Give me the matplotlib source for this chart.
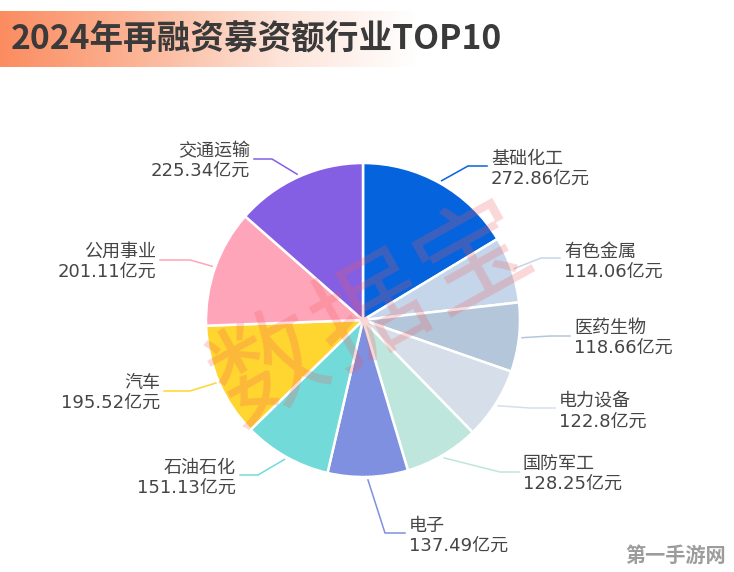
import numpy as np
import matplotlib
matplotlib.use('Agg')
import matplotlib.pyplot as plt
from matplotlib.colors import LinearSegmentedColormap

plt.rcParams['font.family'] = ['Noto Sans CJK SC', 'DejaVu Sans']

categories = ['基础化工', '有色金属', '医药生物', '电力设备', '国防军工',
              '电子', '石油石化', '汽车', '公用事业', '交通运输']
values = [272.86, 114.06, 118.66, 122.8, 128.25, 137.49, 151.13, 195.52, 201.11, 225.34]
colors = ['#0563dd', '#c5d6ea', '#b4c6d9', '#d6dfe9', '#bfe6dd',
          '#7e90df', '#72dbd9', '#ffd530', '#ffa5ba', '#845fe3']
title = '2024年再融资募资额行业TOP10'
watermark = '数据宝'
site = '第一手游网'

W, H = 734, 572
CX, CY, R = 363, 320, 157

# label layout: text anchor x, first line y, elbow x, elbow y, end x
layout = [
    (491, 158, 468, 166, 487),
    (564, 251, 541, 258, 560),
    (574, 327, 550, 336, 570),
    (559, 401, 530, 408, 555),
    (523, 463, 500, 472, 519),
    (409, 525, 385, 533, 405),
    (236, 467, 258, 475, 240),
    (160, 382, 190, 391, 164),
    (156, 251, 190, 260, 160),
    (250, 150, 272, 159, 254),
]

fig = plt.figure(figsize=(W / 100, H / 100), dpi=100, facecolor='white')

# pie axes
ax = fig.add_axes([(CX - R) / W, 1 - (CY + R) / H, 2 * R / W, 2 * R / H])
wedges, _ = ax.pie(values, colors=colors, startangle=90, counterclock=False, radius=1,
                   wedgeprops=dict(edgecolor='white', linewidth=1.8))
ax.set_xlim(-1, 1)
ax.set_ylim(-1, 1)

# overlay in pixel coordinates
ov = fig.add_axes([0, 0, 1, 1], facecolor='none')
ov.axis('off')

cmap = LinearSegmentedColormap.from_list('t', ['#fc8c60', '#fbb597', '#fde3d8', '#ffffff'])
ov.imshow(np.linspace(0, 1, 256)[None, :], extent=(0, 418, 67, 11), cmap=cmap, aspect='auto', zorder=1)
ov.set_xlim(0, W)
ov.set_ylim(H, 0)
ov.text(11, 40, title, fontsize=24.2, fontweight='bold', color='#3a3a3a',
        va='center', ha='left', zorder=2)

total = sum(values)
cum = 0
value_font = ['DejaVu Sans', 'Noto Sans CJK SC']
for name, val, col, (tx, ty, ex, ey, lx) in zip(categories, values, colors, layout):
    mid = np.deg2rad((cum + val / 2) / total * 360)
    cum += val
    sx = CX + (R + 3) * np.sin(mid)
    sy = CY - (R + 3) * np.cos(mid)
    ov.plot([sx, ex, lx], [sy, ey, ey], color=col, lw=1.1, zorder=2, solid_joinstyle='round')
    ha = 'left' if tx > CX else 'right'
    ov.text(tx, ty + 1, name, fontsize=13, color='#454545', ha=ha, va='center', zorder=3)
    ov.text(tx, ty + 20.5, f'{val:g}亿元', fontsize=13, color='#454545', ha=ha, va='center',
            zorder=3, family=value_font)

# watermark: three widely spaced characters along a tilted line
ang = 29
pitch = 116
for i, ch in enumerate(watermark):
    px = 372 + (i - 1) * pitch * np.cos(np.deg2rad(ang))
    py = 314 - (i - 1) * pitch * np.sin(np.deg2rad(ang))
    ov.text(px, py, ch, fontsize=80, color='#f25a5a', alpha=0.24, rotation=ang,
            ha='center', va='center', zorder=4, rotation_mode='anchor')
ov.text(676, 555, site, fontsize=14.5, fontweight='bold', color='#9c9c9c',
        ha='center', va='center', zorder=4)

fig.savefig('out.png', dpi=100)
